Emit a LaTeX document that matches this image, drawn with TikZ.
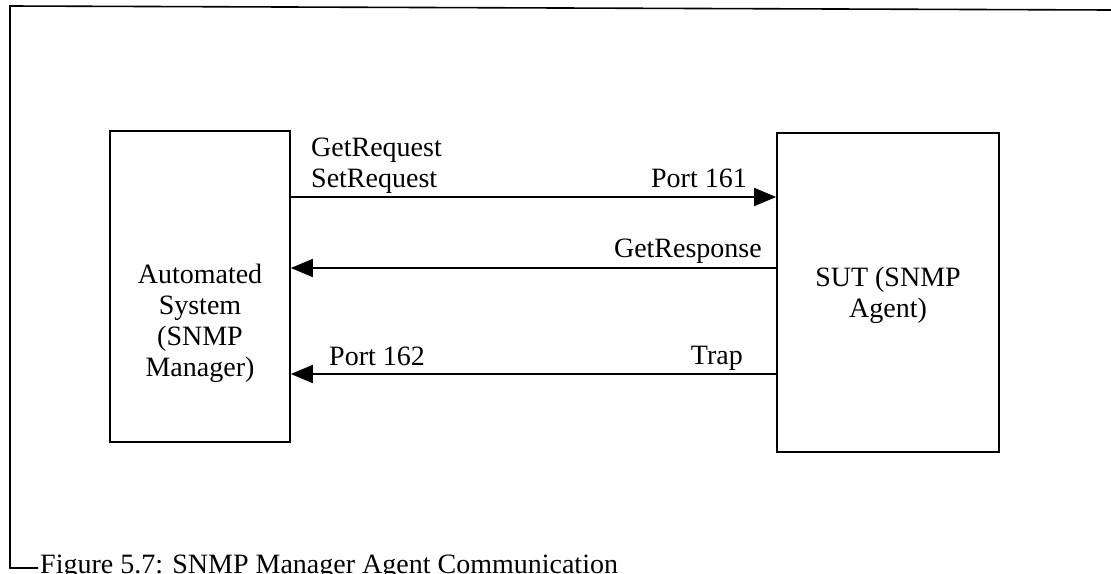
\documentclass[tikz,border=0pt]{standalone}
\usepackage{fontspec}
\setmainfont{Liberation Serif}
\usetikzlibrary{arrows.meta}
\tikzset{
  box/.style={draw, line width=1.6pt, inner sep=0pt},
  lbl/.style={inner sep=0pt, font=\fontsize{28}{31}\selectfont},
  conn/.style={line width=1.6pt, -{Triangle[length=22pt,width=18pt]}},
  frame/.style={line width=1.6pt}
}
\begin{document}
\begin{tikzpicture}[x=1pt,y=-1pt]
\useasboundingbox (0,0) rectangle (1111,573);
\clip (0,0) rectangle (1111,573);
% outer frame
\coordinate (ftl) at (10,6);
\coordinate (ftr) at (1111,10);
\coordinate (fbl) at (10,568);
\coordinate (fbr) at (38,568);
\draw[frame] (fbr) -- (fbl) -- (ftl) -- (ftr);
% boxes
\node[box, minimum width=180pt, minimum height=311pt] (mbox) at (200,286.5) {};
\node[box, minimum width=222pt, minimum height=319pt] (abox) at (888,292.5) {};
% box texts (base = last line's baseline)
\node[lbl, align=center, anchor=base] (mtext) at (200,376) {Automated\\System\\(SNMP\\Manager)};
\node[lbl, align=center, anchor=base] (atext) at (888,317) {SUT (SNMP\\Agent)};
% connector rows
\coordinate (y1) at (0,197);
\coordinate (y2) at (0,268);
\coordinate (y3) at (0,374);
\draw[conn] (mbox.east |- y1) -- (abox.west |- y1);
\draw[conn] (abox.west |- y2) -- (mbox.east |- y2);
\draw[conn] (abox.west |- y3) -- (mbox.east |- y3);
% labels
\node[lbl, align=left, anchor=base west] (req) at (311,187) {GetRequest\\SetRequest};
\node[lbl, anchor=base east] (p161) at (747,187) {Port 161};
\node[lbl, anchor=base east] (resp) at (762,257) {GetResponse};
\node[lbl, anchor=base east] (trap) at (743,364) {Trap};
\node[lbl, anchor=base west] (p162) at (329,365) {Port 162};
% caption
\node[lbl, anchor=base west] (cap) at (40,573) {Figure 5.7: SNMP Manager Agent Communication};
\end{tikzpicture}
\end{document}
